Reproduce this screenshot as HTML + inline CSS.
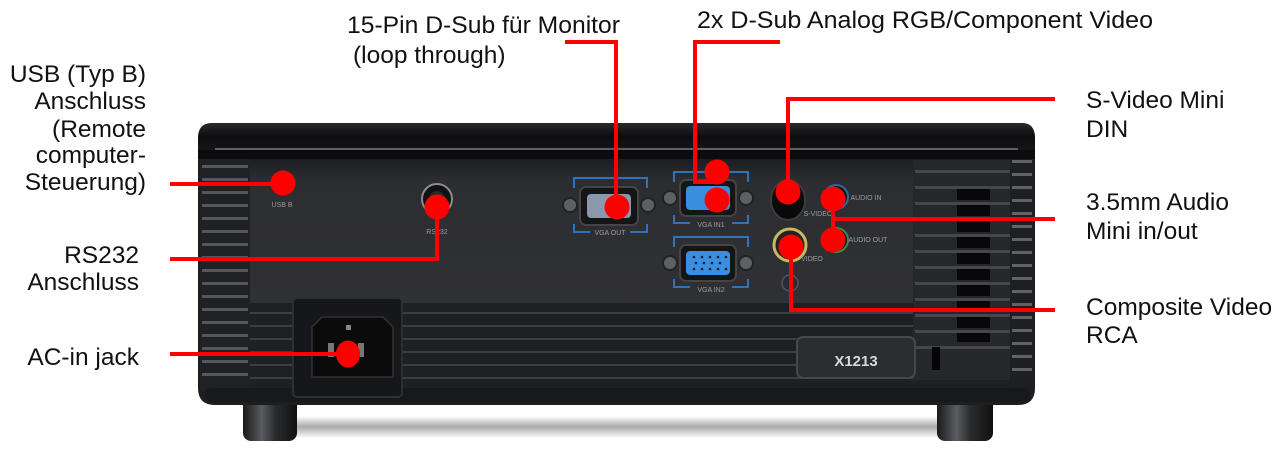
<!DOCTYPE html>
<html><head><meta charset="utf-8"><style>
html,body{margin:0;padding:0;background:#fff;}
svg{display:block;}
text{font-family:"Liberation Sans",Arial,sans-serif;font-size:24.5px;fill:#111;}
.s{font-size:7px;fill:#9a9ca0;}
</style></head><body>
<svg width="1282" height="452" viewBox="0 0 1282 452" xmlns="http://www.w3.org/2000/svg">
<defs>
<linearGradient id="panel" x1="0" y1="0" x2="0" y2="1">
<stop offset="0" stop-color="#1c1d20"/><stop offset="0.15" stop-color="#2c2d31"/><stop offset="1" stop-color="#303135"/>
</linearGradient>
<linearGradient id="bezel" x1="0" y1="0" x2="0" y2="1">
<stop offset="0" stop-color="#2a2a2c"/><stop offset="0.5" stop-color="#0e0e10"/><stop offset="1" stop-color="#151517"/>
</linearGradient>
<linearGradient id="foot" x1="0" y1="0" x2="1" y2="0">
<stop offset="0" stop-color="#1a1a1c"/><stop offset="0.35" stop-color="#5a5c60"/><stop offset="0.6" stop-color="#2a2b2e"/><stop offset="1" stop-color="#111"/>
</linearGradient>
<linearGradient id="shadow" x1="0" y1="0" x2="0" y2="1">
<stop offset="0" stop-color="#fff"/><stop offset="0.5" stop-color="#a9a9a9"/><stop offset="1" stop-color="#fff"/>
</linearGradient>
</defs>

<!-- shadow -->
<rect x="290" y="416" width="660" height="22" fill="url(#shadow)"/>
<!-- feet -->
<rect x="243" y="395" width="54" height="46" rx="8" fill="url(#foot)"/>
<rect x="937" y="395" width="56" height="46" rx="8" fill="url(#foot)"/>

<!-- body -->
<path d="M212,123 L1022,123 Q1035,123 1035,140 L1035,388 Q1035,405 1018,405 L215,405 Q198,405 198,388 L198,140 Q198,123 212,123 Z" fill="#1d1e21"/>
<!-- left side ribs -->
<rect x="200" y="150" width="50" height="240" fill="#202125"/>
<g fill="#55575c">
<rect x="202" y="165" width="46" height="3"/><rect x="202" y="178" width="46" height="3"/><rect x="202" y="191" width="46" height="3"/><rect x="202" y="204" width="46" height="3"/><rect x="202" y="217" width="46" height="3"/><rect x="202" y="230" width="46" height="3"/><rect x="202" y="243" width="46" height="3"/><rect x="202" y="256" width="46" height="3"/><rect x="202" y="269" width="46" height="3"/><rect x="202" y="282" width="46" height="3"/><rect x="202" y="295" width="46" height="3"/><rect x="202" y="308" width="46" height="3"/><rect x="202" y="321" width="46" height="3"/><rect x="202" y="334" width="46" height="3"/><rect x="202" y="347" width="46" height="3"/><rect x="202" y="360" width="46" height="3"/><rect x="202" y="373" width="46" height="3"/>
</g>
<!-- lower front ribs -->
<rect x="250" y="303" width="760" height="90" fill="#1f2023"/>
<g fill="#3c3e42">
<rect x="250" y="312" width="760" height="2"/><rect x="250" y="325" width="760" height="2"/><rect x="250" y="338" width="760" height="2"/><rect x="250" y="351" width="760" height="2"/><rect x="250" y="364" width="760" height="2"/><rect x="250" y="377" width="760" height="2"/>
</g>
<rect x="205" y="388" width="825" height="14" rx="6" fill="#18191b"/>
<!-- right vent -->
<rect x="913" y="160" width="97" height="220" fill="#26272b"/>
<g fill="#45474c">
<rect x="915" y="170" width="95" height="3"/><rect x="915" y="186" width="95" height="3"/><rect x="915" y="202" width="95" height="3"/><rect x="915" y="218" width="95" height="3"/><rect x="915" y="234" width="95" height="3"/><rect x="915" y="250" width="95" height="3"/><rect x="915" y="266" width="95" height="3"/><rect x="915" y="282" width="95" height="3"/><rect x="915" y="298" width="95" height="3"/><rect x="915" y="314" width="95" height="3"/><rect x="915" y="330" width="95" height="3"/><rect x="915" y="346" width="95" height="3"/>
</g>
<g fill="#08080a">
<rect x="957" y="189" width="33" height="11"/><rect x="957" y="205" width="33" height="11"/><rect x="957" y="221" width="33" height="11"/><rect x="957" y="237" width="33" height="11"/><rect x="957" y="253" width="33" height="11"/><rect x="957" y="269" width="33" height="11"/><rect x="957" y="285" width="33" height="11"/><rect x="957" y="301" width="33" height="11"/><rect x="957" y="317" width="33" height="11"/><rect x="957" y="333" width="33" height="9"/>
</g>
<!-- right side ribs -->
<rect x="1010" y="150" width="24" height="238" fill="#1e1f22"/>
<g fill="#606267">
<rect x="1012" y="160" width="20" height="3"/><rect x="1012" y="173" width="20" height="3"/><rect x="1012" y="186" width="20" height="3"/><rect x="1012" y="199" width="20" height="3"/><rect x="1012" y="212" width="20" height="3"/><rect x="1012" y="225" width="20" height="3"/><rect x="1012" y="238" width="20" height="3"/><rect x="1012" y="251" width="20" height="3"/><rect x="1012" y="264" width="20" height="3"/><rect x="1012" y="277" width="20" height="3"/><rect x="1012" y="290" width="20" height="3"/><rect x="1012" y="303" width="20" height="3"/><rect x="1012" y="316" width="20" height="3"/><rect x="1012" y="329" width="20" height="3"/><rect x="1012" y="342" width="20" height="3"/><rect x="1012" y="355" width="20" height="3"/><rect x="1012" y="368" width="20" height="3"/>
</g>
<!-- recessed panel -->
<rect x="250" y="158" width="663" height="145" fill="url(#panel)"/>
<!-- top bezel -->
<path d="M212,123 L1022,123 Q1035,123 1035,138 L1035,150 L198,150 L198,138 Q198,123 212,123 Z" fill="url(#bezel)"/>
<rect x="198" y="150" width="837" height="9" fill="#0c0c0e"/>
<line x1="215" y1="149" x2="1018" y2="149" stroke="#77797d" stroke-width="1.5"/>

<!-- AC socket -->
<rect x="293" y="298" width="109" height="99" rx="4" fill="#16171a" stroke="#2e2f33" stroke-width="2"/>
<path d="M322,317 L383,317 L393,327 L393,377 L312,377 L312,327 Z" fill="#0b0b0c" stroke="#333" stroke-width="1.5"/>
<rect x="358" y="343" width="6" height="14" fill="#777"/>
<rect x="328" y="343" width="6" height="14" fill="#777"/>
<rect x="346" y="325" width="5" height="5" fill="#888"/>

<!-- badge -->
<rect x="797" y="337" width="118" height="41" rx="6" fill="#2c2d31" stroke="#45474c" stroke-width="2"/>
<text x="856" y="366" text-anchor="middle" style="font-size:15px;font-weight:bold;fill:#d8d8d8">X1213</text>
<rect x="932" y="347" width="8" height="23" fill="#050505"/>

<!-- USB B -->
<rect x="276" y="176" width="14" height="12" fill="#111"/>
<text class="s" x="282" y="207" text-anchor="middle">USB B</text>
<!-- RS232 -->
<circle cx="437" cy="199" r="15" fill="#111" stroke="#8a8c90" stroke-width="2"/>
<circle cx="437" cy="199" r="8" fill="#2a2a2c"/>
<text class="s" x="437" y="234" text-anchor="middle">RS232</text>

<!-- VGA brackets -->
<g fill="none" stroke="#2d74c0" stroke-width="2">
<path d="M574,188 L574,178 L647,178 L647,188"/><path d="M574,224 L574,232 L590,232 M630,232 L647,232 L647,224"/>
<path d="M674,182 L674,172 L748,172 L748,182"/><path d="M674,215 L674,223 L690,223 M732,223 L748,223 L748,215"/>
<path d="M674,247 L674,237 L748,237 L748,247"/><path d="M674,279 L674,287 L690,287 M732,287 L748,287 L748,279"/>
</g>
<!-- VGA OUT -->
<circle cx="570" cy="205" r="7" fill="#5e6065" stroke="#222" stroke-width="2"/>
<circle cx="648" cy="205" r="7" fill="#5e6065" stroke="#222" stroke-width="2"/>
<rect x="580" y="187" width="58" height="38" rx="6" fill="#141517" stroke="#444" stroke-width="2"/>
<rect x="587" y="194" width="44" height="24" rx="4" fill="#8b97aa"/>
<text class="s" x="610" y="235" text-anchor="middle">VGA OUT</text>
<!-- VGA IN1 -->
<circle cx="670" cy="198" r="7" fill="#5e6065" stroke="#222" stroke-width="2"/>
<circle cx="746" cy="198" r="7" fill="#5e6065" stroke="#222" stroke-width="2"/>
<rect x="680" y="180" width="56" height="36" rx="6" fill="#141517" stroke="#444" stroke-width="2"/>
<rect x="686" y="186" width="44" height="24" rx="4" fill="#3a8ee0"/>
<text class="s" x="711" y="227" text-anchor="middle">VGA IN1</text>
<!-- VGA IN2 -->
<circle cx="670" cy="263" r="7" fill="#5e6065" stroke="#222" stroke-width="2"/>
<circle cx="746" cy="263" r="7" fill="#5e6065" stroke="#222" stroke-width="2"/>
<rect x="680" y="245" width="56" height="36" rx="6" fill="#141517" stroke="#444" stroke-width="2"/>
<rect x="686" y="251" width="44" height="24" rx="4" fill="#3a8ee0"/>
<g fill="#123">
<circle cx="694" cy="257" r="1.3"/><circle cx="702" cy="257" r="1.3"/><circle cx="710" cy="257" r="1.3"/><circle cx="718" cy="257" r="1.3"/><circle cx="726" cy="257" r="1.3"/>
<circle cx="696" cy="263" r="1.3"/><circle cx="704" cy="263" r="1.3"/><circle cx="712" cy="263" r="1.3"/><circle cx="720" cy="263" r="1.3"/>
<circle cx="694" cy="269" r="1.3"/><circle cx="702" cy="269" r="1.3"/><circle cx="710" cy="269" r="1.3"/><circle cx="718" cy="269" r="1.3"/><circle cx="726" cy="269" r="1.3"/>
</g>
<text class="s" x="711" y="292" text-anchor="middle">VGA IN2</text>

<!-- S-Video -->
<ellipse cx="788" cy="200" rx="17" ry="20" fill="#0a0a0b" stroke="#3a3b3f" stroke-width="2"/>
<text class="s" x="818" y="216" text-anchor="middle">S-VIDEO</text>
<!-- audio -->
<circle cx="836" cy="197" r="12" fill="#111" stroke="#2a6aa0" stroke-width="2"/>
<text class="s" x="866" y="200" text-anchor="middle">AUDIO IN</text>
<circle cx="836" cy="240" r="12" fill="#111" stroke="#3a8a4a" stroke-width="2"/>
<text class="s" x="868" y="242" text-anchor="middle">AUDIO OUT</text>
<!-- RCA -->
<circle cx="790" cy="245" r="16" fill="#222" stroke="#c8b860" stroke-width="3"/>
<text class="s" x="812" y="261" text-anchor="middle">VIDEO</text>
<circle cx="790" cy="283" r="8" fill="#2a2b2e" stroke="#555" stroke-width="1.5"/>

<!-- red callouts -->
<g fill="none" stroke="#ff0000" stroke-width="4">
<polyline points="170,184 283,184"/>
<polyline points="170,259 437,259 437,207"/>
<polyline points="170,354 348,354"/>
<polyline points="565,42 616,42 616,208"/>
<polyline points="780,42 695,42 695,182 716,182"/>
<polyline points="1055,99 788,99 788,193"/>
<polyline points="833,199 833,240"/>
<polyline points="833,219 1055,219"/>
<polyline points="791,247 791,310 1055,310"/>
</g>
<g fill="#ff0000">
<circle cx="283" cy="183" r="12.5"/>
<circle cx="437" cy="207" r="12.5"/>
<ellipse cx="348" cy="354" rx="12" ry="13.5"/>
<circle cx="617" cy="207" r="12.5"/>
<circle cx="717" cy="172" r="12.5"/>
<circle cx="717" cy="200" r="12.5"/>
<circle cx="788" cy="192" r="12.5"/>
<circle cx="833" cy="199" r="12.5"/>
<circle cx="833" cy="240" r="12.5"/>
<circle cx="791" cy="247" r="12.5"/>
</g>

<!-- labels -->
<text x="347" y="33" textLength="273" lengthAdjust="spacingAndGlyphs">15-Pin D-Sub für Monitor</text>
<text x="353" y="63">(loop through)</text>
<text x="697" y="28" textLength="456" lengthAdjust="spacingAndGlyphs">2x D-Sub Analog RGB/Component Video</text>

<g text-anchor="end">
<text x="146" y="82">USB (Typ B)</text>
<text x="146" y="109">Anschluss</text>
<text x="146" y="137">(Remote</text>
<text x="146" y="163">computer-</text>
<text x="146" y="190">Steuerung)</text>
<text x="139" y="263">RS232</text>
<text x="139" y="290">Anschluss</text>
<text x="139" y="365">AC-in jack</text>
</g>

<text x="1086" y="108">S-Video Mini</text>
<text x="1086" y="137">DIN</text>
<text x="1086" y="210">3.5mm Audio</text>
<text x="1086" y="239">Mini in/out</text>
<text x="1086" y="315">Composite Video</text>
<text x="1086" y="343">RCA</text>
</svg>
</body></html>
